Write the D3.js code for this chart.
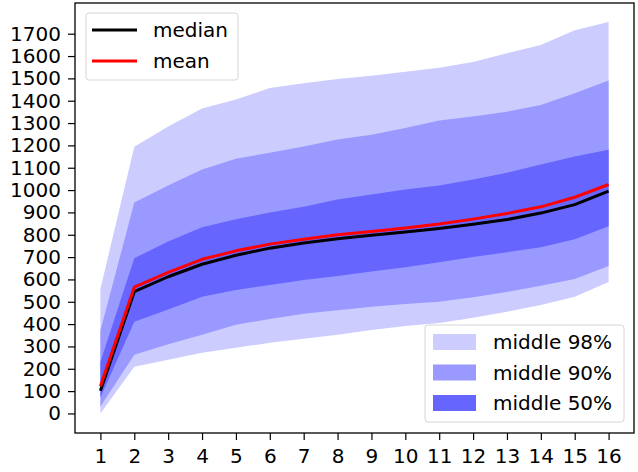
<!DOCTYPE html>
<html>
<head>
<meta charset="utf-8">
<script src="https://cdn.jsdelivr.net/npm/d3@7"></script>
<style>
  body { margin: 0; background: #fff; }
  text { font-family: "DejaVu Sans", sans-serif; }
</style>
</head>
<body>
<svg id="chart"></svg>
<script>
// data
const steps = [1, 2, 3, 4, 5, 6, 7, 8, 9, 10, 11, 12, 13, 14, 15, 16];
const p1  = [0, 209, 240, 272, 294, 316, 334, 352, 374, 392, 405, 428, 455, 486, 522, 588];
const p5  = [31, 263, 310, 352, 397, 423, 446, 462, 478, 490, 500, 520, 544, 572, 602, 660];
const p25 = [71, 410, 465, 522, 553, 575, 597, 615, 635, 655, 677, 700, 722, 744, 780, 838];
const p75 = [230, 695, 770, 834, 869, 900, 925, 958, 980, 1003, 1021, 1047, 1078, 1114, 1150, 1181];
const p95 = [370, 944, 1020, 1092, 1140, 1167, 1195, 1226, 1248, 1278, 1311, 1329, 1351, 1381, 1434, 1490];
const p99 = [557, 1194, 1285, 1365, 1405, 1457, 1478, 1497, 1512, 1530, 1548, 1573, 1613, 1649, 1716, 1753];
const median = [102, 545, 612, 668, 708, 740, 763, 782, 798, 812, 828, 847, 868, 897, 935, 995];
const mean   = [122, 565, 632, 690, 728, 758, 780, 800, 815, 830, 848, 870, 895, 925, 968, 1025];
const yTicks = d3.range(0, 1800, 100);

const bandNames = ["middle 98%", "middle 90%", "middle 50%"];
const bandColors = ["#ccccff", "#9999ff", "#6666ff"];

const width = 638;
const height = 472;
const plot = {left: 75, right: 634, top: 3, bottom: 433};

const svg = d3.select('#chart')
  .attr('width', width)
  .attr('height', height);

// scales
const xScale = d3.scaleLinear()
  .domain([0.25, 16.75])
  .range([plot.left, plot.right]);

const yScale = d3.scaleLinear()
  .domain([-87.5, 1837.5])
  .range([plot.bottom, plot.top]);

// bands, widest first
const bands = [[p1, p99], [p5, p95], [p25, p75]];
bands.forEach((b, k) => {
  const area = d3.area()
    .x((d, i) => xScale(steps[i]))
    .y0((d, i) => yScale(b[0][i]))
    .y1((d, i) => yScale(b[1][i]));
  svg.append('path')
    .datum(steps)
    .attr('d', area)
    .attr('fill', bandColors[k]);
});

// median and mean lines
const lines = [{vals: median, color: 'black'}, {vals: mean, color: 'red'}];
lines.forEach(l => {
  const line = d3.line()
    .x((d, i) => xScale(steps[i]))
    .y(d => yScale(d));
  svg.append('path')
    .datum(l.vals)
    .attr('d', line)
    .attr('fill', 'none')
    .attr('stroke', l.color)
    .attr('stroke-width', 3)
    .attr('stroke-linejoin', 'round');
});

// axes
const xAxis = d3.axisBottom(xScale).tickValues(steps).tickSize(7).tickPadding(9).tickFormat(d3.format('d'));
const yAxis = d3.axisLeft(yScale).tickValues(yTicks).tickSize(7).tickPadding(7).tickFormat(d3.format('d'));

const gx = svg.append('g')
  .attr('transform', `translate(0, ${plot.bottom})`)
  .call(xAxis);
const gy = svg.append('g')
  .attr('transform', `translate(${plot.left}, 0)`)
  .call(yAxis);

[gx, gy].forEach(g => {
  g.select('.domain').remove();
  g.selectAll('.tick line').attr('stroke', '#000').attr('stroke-width', 1.2);
  g.selectAll('.tick text').attr('fill', '#000').style('font-size', '20px');
});

// frame
svg.append('rect')
  .attr('x', plot.left)
  .attr('y', plot.top)
  .attr('width', plot.right - plot.left)
  .attr('height', plot.bottom - plot.top)
  .attr('fill', 'none')
  .attr('stroke', '#000')
  .attr('stroke-width', 1.3);

// legend for lines
const leg1 = svg.append('g');
leg1.append('rect')
  .attr('x', 86).attr('y', 13)
  .attr('width', 152).attr('height', 67)
  .attr('rx', 3)
  .attr('fill', '#fff').attr('fill-opacity', 0.8)
  .attr('stroke', '#d6d6d6');
const lineNames = ['median', 'mean'];
lineNames.forEach((name, i) => {
  const y = 30 + i * 31;
  leg1.append('line')
    .attr('x1', 92).attr('x2', 137)
    .attr('y1', y).attr('y2', y)
    .attr('stroke', lines[i].color)
    .attr('stroke-width', 3);
  leg1.append('text')
    .attr('x', 153).attr('y', y)
    .attr('dy', '0.35em')
    .style('font-size', '20px')
    .text(name);
});

// legend for bands
const leg2 = svg.append('g');
leg2.append('rect')
  .attr('x', 425).attr('y', 325)
  .attr('width', 199).attr('height', 97)
  .attr('rx', 3)
  .attr('fill', '#fff').attr('fill-opacity', 0.8)
  .attr('stroke', '#d6d6d6');
bandNames.forEach((name, i) => {
  const y = 342 + i * 30.5;
  leg2.append('rect')
    .attr('x', 433).attr('y', y - 8)
    .attr('width', 43).attr('height', 16)
    .attr('fill', bandColors[i]);
  leg2.append('text')
    .attr('x', 493).attr('y', y)
    .attr('dy', '0.35em')
    .style('font-size', '20px')
    .text(name);
});
</script>
</body>
</html>
